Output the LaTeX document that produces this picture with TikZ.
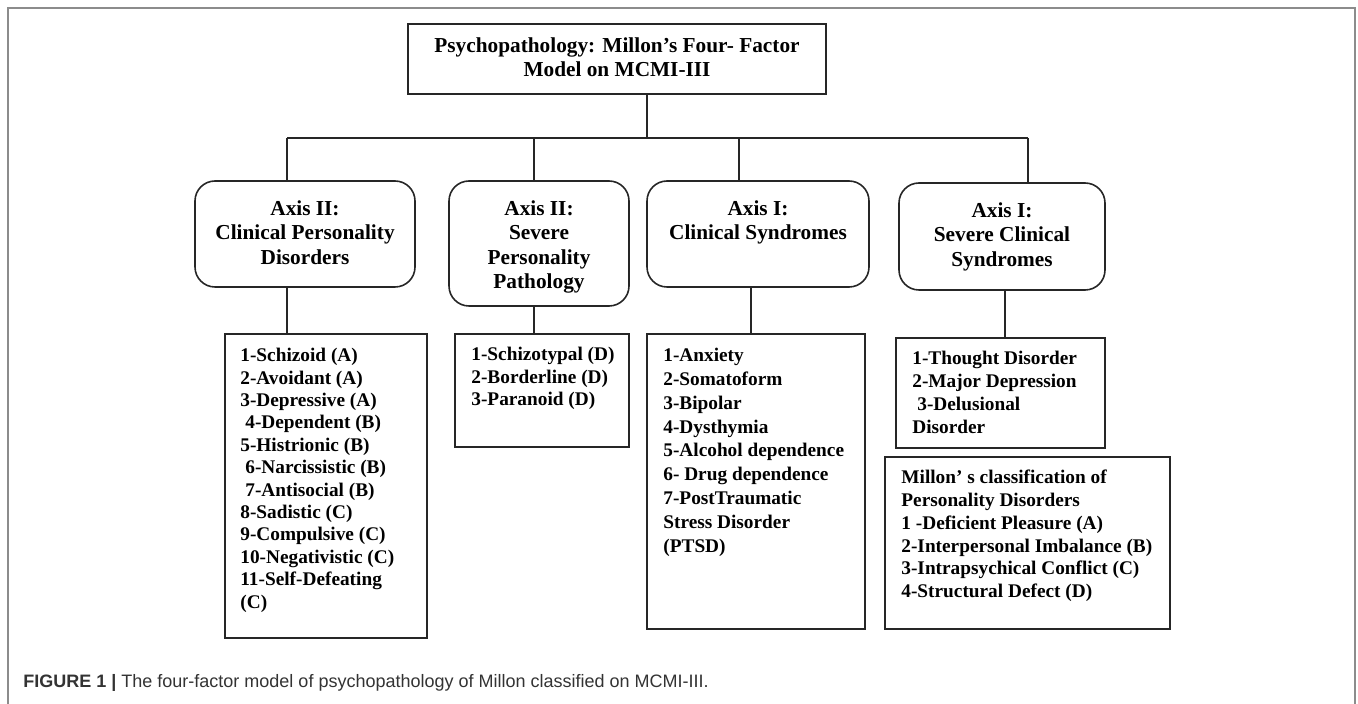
\documentclass[tikz,border=0pt]{standalone}
\usepackage{fontspec}
\setmainfont{Liberation Serif}
\setsansfont{Liberation Sans}
\begin{document}
\begin{tikzpicture}[x=0.5pt,y=-0.5pt,
  box/.style={draw=black!85, line width=0.8pt, inner sep=0pt},
  rbox/.style={box, rounded corners=10pt},
  ttl/.style={font=\bfseries\fontsize{10.65}{12.25}\selectfont, align=center, inner sep=0pt, anchor=north},
  lst/.style={font=\bfseries\fontsize{9.65}{11.2}\selectfont, align=left, inner sep=0pt, anchor=north west},
  conn/.style={draw=black!85, line width=0.8pt}]
\useasboundingbox (0,0) rectangle (1358,704);
% outer frame
\draw[black!45, line width=0.8pt] (8,704) -- (8,8) -- (1355,8) -- (1355,704);

% boxes
\node[box, minimum width=209pt, minimum height=35pt] (top) at (617,59) {};
\node[rbox, minimum width=110pt, minimum height=53pt] (b1) at (305,234) {};
\node[rbox, minimum width=90pt, minimum height=62.5pt] (b2) at (539,243.5) {};
\node[rbox, minimum width=111pt, minimum height=53pt] (b3) at (758,234) {};
\node[rbox, minimum width=103pt, minimum height=53.5pt] (b4) at (1002,236.5) {};
\node[box, minimum width=101pt, minimum height=152pt] (L1) at (326,486) {};
\node[box, minimum width=87pt, minimum height=56.5pt] (L2) at (542,390.5) {};
\node[box, minimum width=109pt, minimum height=147.5pt] (L3) at (756,481.5) {};
\node[box, minimum width=104.5pt, minimum height=55pt] (L4) at (1000.5,393) {};
\node[box, minimum width=142.5pt, minimum height=86pt] (L5) at (1027.5,543) {};

% texts
\node[ttl] (topt) at (617,37) {Psychopathology: Millon’s Four- Factor\\Model on MCMI-III};
\node[ttl] (b1t) at (305,200) {Axis II:\\Clinical Personality\\Disorders};
\node[ttl] (b2t) at (539,200) {Axis II:\\Severe\\Personality\\Pathology};
\node[ttl] (b3t) at (758,200) {Axis I:\\Clinical Syndromes};
\node[ttl] (b4t) at (1002,202) {Axis I:\\Severe Clinical\\Syndromes};

\node[lst] (L1t) at (240,348) {1-Schizoid (A)\\2-Avoidant (A)\\3-Depressive (A)\\\hspace*{2.5pt}4-Dependent (B)\\5-Histrionic (B)\\\hspace*{2.5pt}6-Narcissistic (B)\\\hspace*{2.5pt}7-Antisocial (B)\\8-Sadistic (C)\\9-Compulsive (C)\\10-Negativistic (C)\\11-Self-Defeating\\(C)};
\node[lst] (L2t) at (471,347) {1-Schizotypal (D)\\2-Borderline (D)\\3-Paranoid (D)};
\node[lst, font=\bfseries\fontsize{9.65}{11.9}\selectfont] (L3t) at (663,348) {1-Anxiety\\2-Somatoform\\3-Bipolar\\4-Dysthymia\\5-Alcohol dependence\\6- Drug dependence\\7-PostTraumatic\\Stress Disorder\\(PTSD)};
\node[lst, font=\bfseries\fontsize{9.65}{11.5}\selectfont] (L4t) at (912,351) {1-Thought Disorder\\2-Major Depression\\\hspace*{2.5pt}3-Delusional\\Disorder};
\node[lst, font=\bfseries\fontsize{9.65}{11.35}\selectfont] (L5t) at (901,470) {Millon’ s classification of\\Personality Disorders\\1 -Deficient Pleasure (A)\\2-Interpersonal Imbalance (B)\\3-Intrapsychical Conflict (C)\\4-Structural Defect (D)};

% caption
\node[anchor=base west, inner sep=0pt, text=black!80, font=\sffamily\fontsize{9}{11}\selectfont] (cap) at (23,687) {\textbf{FIGURE 1 |} The four-factor model of psychopathology of Millon classified on MCMI-III.};

% connectors
\coordinate (t) at (647,138);
\coordinate (d1) at (287,138);
\coordinate (d2) at (534,138);
\coordinate (d3) at (739,138);
\coordinate (d4) at (1028,138);
\coordinate (e3) at (751,300);
\coordinate (e4) at (1005,300);
\draw[conn] (top.south -| t) -- (t);
\draw[conn] (d1) -- (d4);
\draw[conn] (d1) -- (d1 |- b1.north);
\draw[conn] (d2) -- (d2 |- b2.north);
\draw[conn] (d3) -- (d3 |- b3.north);
\draw[conn] (d4) -- (d4 |- b4.north);
\draw[conn] (b1.south -| d1) -- (L1.north -| d1);
\draw[conn] (b2.south -| d2) -- (L2.north -| d2);
\draw[conn] (b3.south -| e3) -- (L3.north -| e3);
\draw[conn] (b4.south -| e4) -- (L4.north -| e4);
\end{tikzpicture}
\end{document}
